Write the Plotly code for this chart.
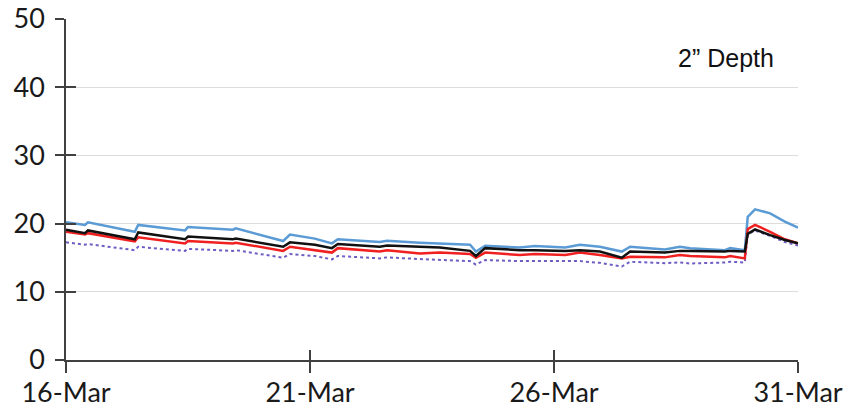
import pandas as pd
import plotly.graph_objects as go

# Soil temperature readings at 2" depth, 16-Mar to 31-Mar
start = pd.Timestamp("2014-03-16")
day_offsets = [0.00, 0.39, 0.45, 1.41, 1.48, 2.44, 2.50, 3.42, 3.48, 4.45,
               4.59, 5.10, 5.45, 5.57, 6.43, 6.58, 7.25, 7.66, 8.28, 8.40,
               8.59, 9.30, 9.61, 10.23, 10.53, 10.94, 11.39, 11.56, 12.27, 12.58,
               12.79, 13.50, 13.61, 13.91, 13.97, 14.12, 14.43, 14.73, 15.00]
times = [start + pd.Timedelta(days=d) for d in day_offsets]

blue_vals = [20.2, 19.8, 20.2, 18.8, 19.8, 19.0, 19.5, 19.1, 19.3, 17.45,
             18.4, 17.8, 17.1, 17.7, 17.3, 17.5, 17.2, 17.1, 16.9, 15.9,
             16.75, 16.5, 16.7, 16.5, 16.9, 16.6, 15.9, 16.6, 16.2, 16.6,
             16.4, 16.1, 16.4, 16.1, 21.0, 22.1, 21.5, 20.3, 19.4]
black_vals = [19.1, 18.6, 19.0, 17.7, 18.7, 17.7, 18.1, 17.7, 17.8, 16.6,
              17.25, 16.9, 16.4, 17.0, 16.6, 16.8, 16.6, 16.5, 16.0, 15.25,
              16.4, 16.1, 16.1, 16.0, 16.1, 15.9, 15.0, 15.9, 15.75, 16.0,
              16.0, 15.9, 16.0, 15.9, 18.5, 19.15, 18.3, 17.6, 17.1]
red_vals = [18.8, 18.4, 18.6, 17.4, 18.0, 17.1, 17.45, 17.1, 17.2, 16.0,
            16.6, 16.1, 15.75, 16.4, 15.9, 16.1, 15.6, 15.75, 15.55, 15.0,
            15.75, 15.4, 15.55, 15.4, 15.75, 15.4, 14.9, 15.15, 15.05, 15.4,
            15.25, 15.05, 15.25, 14.9, 19.2, 19.8, 18.8, 17.7, 17.1]
purple_vals = [17.25, 16.9, 17.0, 16.1, 16.6, 16.0, 16.3, 16.0, 16.1, 15.0,
               15.55, 15.25, 14.75, 15.25, 14.9, 15.05, 14.8, 14.7, 14.5, 14.0,
               14.65, 14.5, 14.5, 14.4, 14.5, 14.25, 13.7, 14.4, 14.2, 14.3,
               14.15, 14.3, 14.4, 14.3, 18.4, 19.0, 18.2, 17.3, 16.8]

y_ticks = [0, 10, 20, 30, 40, 50]
x_ticks = ["2014-03-16", "2014-03-21", "2014-03-26", "2014-03-31"]
x_range = ["2014-03-16", "2014-03-31"]

fig = go.Figure()
fig.add_trace(go.Scatter(x=times, y=purple_vals, mode="lines",
                         line=dict(color="#6f5cc4", width=2, dash="dot")))
fig.add_trace(go.Scatter(x=times, y=blue_vals, mode="lines",
                         line=dict(color="#5b9bd5", width=2.5)))
fig.add_trace(go.Scatter(x=times, y=red_vals, mode="lines",
                         line=dict(color="#f02020", width=2.5)))
fig.add_trace(go.Scatter(x=times, y=black_vals, mode="lines",
                         line=dict(color="#111111", width=2.5)))

tick_font = dict(family="Lato, Open Sans, sans-serif", size=27, color="#1a1a1a")
axis_color = "#404040"

fig.update_layout(
    width=858, height=414,
    margin=dict(l=66, r=60, t=19, b=54),
    paper_bgcolor="white", plot_bgcolor="white",
    showlegend=False,
    xaxis=dict(type="date", range=x_range, tickvals=x_ticks, tickformat="%-d-%b",
               showgrid=False, zeroline=False, showline=True, linecolor=axis_color,
               linewidth=1.5, ticks="outside", ticklen=11, tickwidth=1.5,
               tickcolor=axis_color, tickfont=tick_font, ticklabelstandoff=-3,
               automargin=False),
    xaxis2=dict(type="date", range=x_range, tickvals=x_ticks, overlaying="x",
                side="bottom", showticklabels=False, showgrid=False, zeroline=False,
                showline=False, ticks="inside", ticklen=10, tickwidth=1.5,
                tickcolor=axis_color, automargin=False),
    yaxis=dict(range=[0, 50], tickvals=y_ticks, showgrid=True, gridcolor="#dcdcdc",
               gridwidth=1, zeroline=False, showline=True, linecolor=axis_color,
               linewidth=1.5, ticks="outside", ticklen=9, tickwidth=1.5,
               tickcolor=axis_color, tickfont=tick_font, ticklabelstandoff=5,
               automargin=False),
    yaxis2=dict(range=[0, 50], tickvals=y_ticks, overlaying="y", side="left",
                showticklabels=False, showgrid=False, zeroline=False, showline=False,
                ticks="inside", ticklen=10, tickwidth=1.5, tickcolor=axis_color,
                automargin=False),
)

# dummy trace to bind the tick-only overlay axes
fig.add_trace(go.Scatter(x=[x_range[0]], y=[None], xaxis="x2", yaxis="y2",
                         mode="lines", hoverinfo="skip", showlegend=False))

fig.add_annotation(text="2\u201d Depth", xref="paper", yref="paper",
                   x=0.902, y=0.886, xanchor="center", yanchor="middle",
                   showarrow=False,
                   font=dict(family="Liberation Sans, Arial, sans-serif", size=25,
                             color="#111111"))

fig.write_html("out.html")
